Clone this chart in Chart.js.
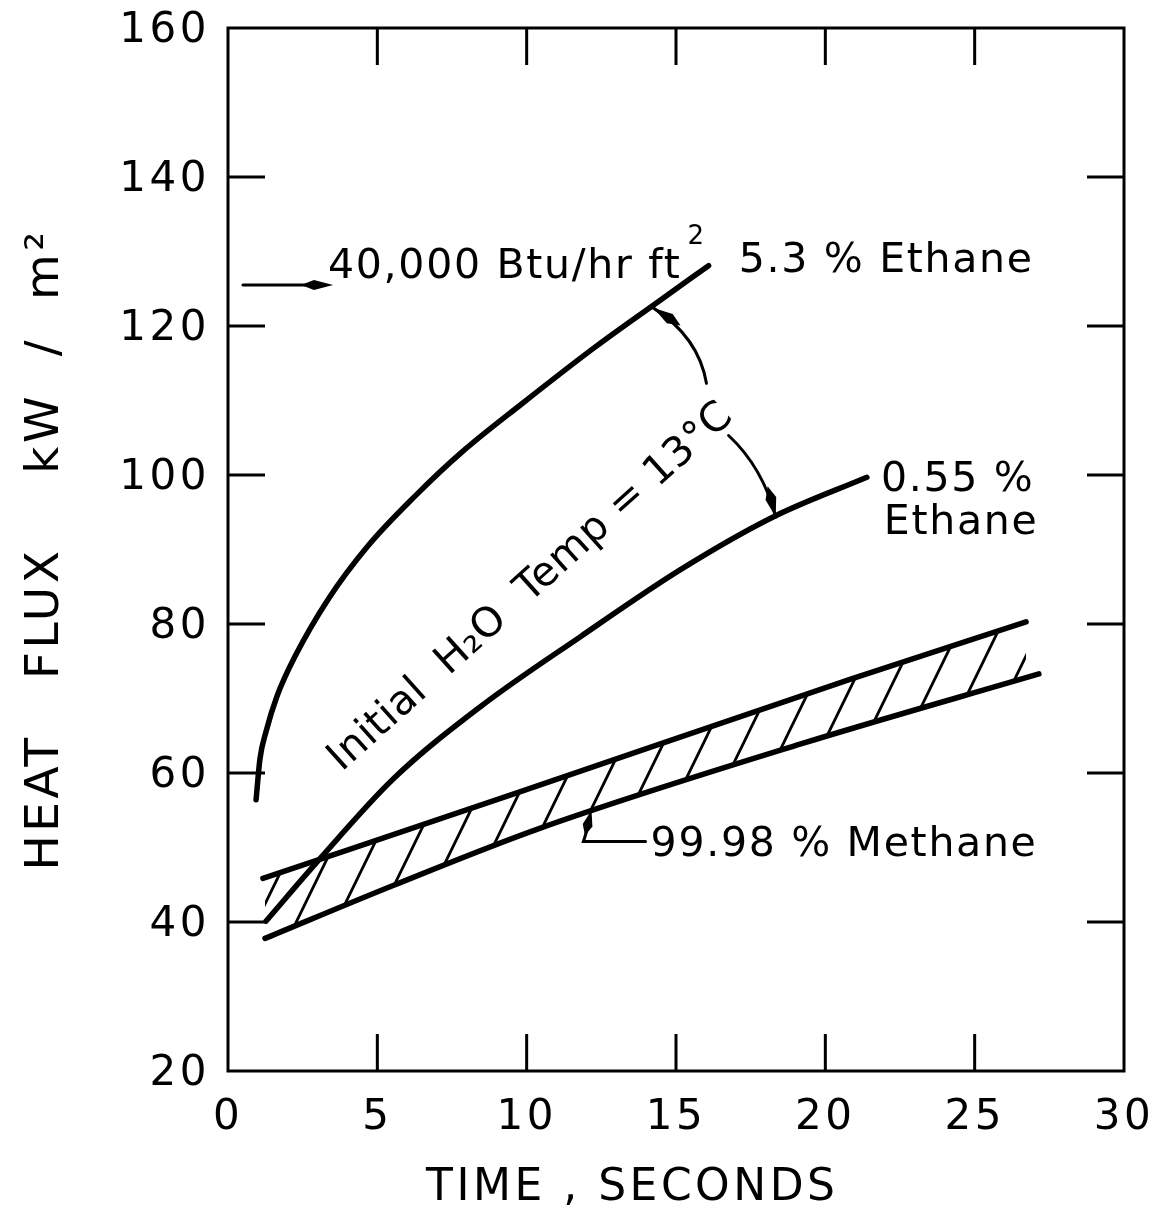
<!DOCTYPE html>
<html>
<head>
<meta charset="utf-8">
<script src="https://cdn.jsdelivr.net/npm/chart.js@4.4.0/dist/chart.umd.min.js"></script>
<style>
  html, body { margin: 0; padding: 0; background: #fff; }
  canvas { display: block; }
</style>
</head>
<body>
<canvas id="myChart" width="1150" height="1211"></canvas>
<script>
// values (time in s, heat flux in kW/m2)
const xTicks = [0, 5, 10, 15, 20, 25, 30];
const yTicks = [20, 40, 60, 80, 100, 120, 140, 160];

const ethaneHighTime = [0.94, 1.07, 1.27, 1.64, 2.25, 3.35, 4.69, 6.27, 7.81, 9.82, 12.30, 14.31, 16.09];
const ethaneHighFlux = [56.4, 61.9, 65.5, 70.3, 75.7, 83.3, 90.5, 97.2, 103.0, 109.5, 117.2, 123.0, 128.1];

const ethaneLowTime = [1.27, 3.08, 5.53, 8.45, 11.80, 15.15, 18.27, 21.39];
const ethaneLowFlux = [40.1, 48.5, 59.2, 68.9, 78.3, 87.3, 94.4, 99.7];

const methaneUpperTime = [1.17, 9.72, 20.85, 26.72];
const methaneUpperFlux = [45.85, 57.4, 72.6, 80.3];

const methaneLowerTime = [1.24, 5.53, 10.39, 19.18, 27.15];
const methaneLowerFlux = [37.8, 44.9, 52.5, 63.9, 73.3];

const btuLine = 125.5; // 40,000 Btu/hr ft2 in kW/m2

const toPoints = (xs, ys) => xs.map((v, i) => ({ x: v, y: ys[i] }));

// diagonal hatching for the methane band
function makeHatch() {
    const w = 40, h = 82;
    const c = document.createElement('canvas');
    c.width = w; c.height = h;
    const g = c.getContext('2d');
    g.strokeStyle = '#000';
    g.lineWidth = 2.8;
    g.beginPath();
    [-w, 0, w].forEach(dx => {
        g.moveTo(dx - 4, h + 8.2);
        g.lineTo(dx + w + 4, -8.2);
    });
    g.stroke();
    const p = g.createPattern(c, 'repeat');
    p.setTransform(new DOMMatrix().translate(26, 0));
    return p;
}

function arrowHead(ctx, tx, ty, fx, fy, len, wid) {
    const d = Math.hypot(tx - fx, ty - fy);
    const ux = (tx - fx) / d, uy = (ty - fy) / d;
    const nx = -uy, ny = ux;
    ctx.beginPath();
    ctx.moveTo(tx, ty);
    ctx.lineTo(tx - ux * len * 0.6 + nx * wid / 2, ty - uy * len * 0.6 + ny * wid / 2);
    ctx.lineTo(tx - ux * len, ty - uy * len);
    ctx.lineTo(tx - ux * len * 0.6 - nx * wid / 2, ty - uy * len * 0.6 - ny * wid / 2);
    ctx.closePath();
    ctx.fill();
}

// wider lettering, like the hand-lettered original
const spacing = {
    id: 'spacing',
    beforeDraw(chart) { chart.ctx.letterSpacing = '3.5px'; }
};

const frameAndTicks = {
    id: 'frameAndTicks',
    afterDatasetsDraw(chart) {
        const { ctx, chartArea: a, scales: { x, y } } = chart;
        ctx.save();
        ctx.strokeStyle = '#000';
        ctx.lineWidth = 3;
        ctx.strokeRect(a.left, a.top, a.right - a.left, a.bottom - a.top);
        const len = 37;
        ctx.beginPath();
        xTicks.slice(1, -1).forEach(v => {
            const px = x.getPixelForValue(v);
            ctx.moveTo(px, a.bottom); ctx.lineTo(px, a.bottom - len);
            ctx.moveTo(px, a.top); ctx.lineTo(px, a.top + len);
        });
        yTicks.slice(1, -1).forEach(v => {
            const py = y.getPixelForValue(v);
            ctx.moveTo(a.left, py); ctx.lineTo(a.left + len, py);
            ctx.moveTo(a.right, py); ctx.lineTo(a.right - len, py);
        });
        ctx.stroke();
        ctx.restore();
    }
};

const notes = {
    id: 'notes',
    afterDatasetsDraw(chart) {
        const { ctx, scales: { x, y } } = chart;
        const P = (t, f) => [x.getPixelForValue(t), y.getPixelForValue(f)];
        ctx.save();
        ctx.fillStyle = '#000';
        ctx.strokeStyle = '#000';
        ctx.lineCap = 'round';
        ctx.textBaseline = 'alphabetic';
        ctx.letterSpacing = '1.7px';
        ctx.font = '41px "DejaVu Sans"';

        // 40,000 Btu/hr ft2 marker
        let [ax0, ay] = P(0.5, btuLine);
        let [ax1] = P(3.52, btuLine);
        ctx.lineWidth = 3;
        ctx.beginPath(); ctx.moveTo(ax0, ay); ctx.lineTo(ax1 - 20, ay); ctx.stroke();
        arrowHead(ctx, ax1, ay, ax0, ay, 32, 10);
        let [tx, ty] = P(3.35, 126.5);
        ctx.fillText('40,000 Btu/hr ft', tx, ty);
        const w = ctx.measureText('40,000 Btu/hr ft').width;
        ctx.font = '26px "DejaVu Sans"';
        ctx.fillText('2', tx + w + 6, ty - 34);

        ctx.font = '41px "DejaVu Sans"';
        [tx, ty] = P(17.1, 127.3);
        ctx.fillText('5.3 % Ethane', tx, ty);
        [tx, ty] = P(21.86, 97.8);
        ctx.fillText('0.55 %', tx, ty);
        [tx, ty] = P(21.96, 92.1);
        ctx.fillText('Ethane', tx, ty);
        [tx, ty] = P(14.15, 48.9);
        ctx.fillText('99.98 % Methane', tx, ty);

        // leader to the methane band
        const [lx, ly] = P(11.9, 50.8);
        const [lx2] = P(13.98, 50.8);
        const [mx, my] = P(12.17, 55.0);
        ctx.lineWidth = 3;
        ctx.beginPath(); ctx.moveTo(lx2, ly); ctx.lineTo(lx, ly); ctx.lineTo(mx - 2, my + 12); ctx.stroke();
        arrowHead(ctx, mx, my, lx, ly, 26, 10);

        // rotated water temperature label
        const [rx, ry] = P(10.15, 84.9);
        ctx.save();
        ctx.translate(rx, ry);
        ctx.rotate(-42 * Math.PI / 180);
        ctx.textAlign = 'center';
        ctx.textBaseline = 'middle';
        ctx.letterSpacing = '0.5px';
        ctx.font = '41px "DejaVu Sans"';
        ctx.fillText('Initial  H\u2082O  Temp = 13\u00b0C', 0, 0);
        ctx.restore();

        // curved arrows from the label to the two ethane curves
        const arcs = [
            [[16.02, 112.3], [15.76, 118.5], [14.25, 122.4]],
            [[16.76, 105.3], [17.90, 101.05], [18.34, 94.35]]
        ];
        ctx.lineWidth = 3;
        arcs.forEach(([s, c, e]) => {
            const [sx, sy] = P(s[0], s[1]);
            const [cx, cy] = P(c[0], c[1]);
            const [ex, ey] = P(e[0], e[1]);
            ctx.beginPath();
            ctx.moveTo(sx, sy);
            ctx.quadraticCurveTo(cx, cy, ex, ey);
            ctx.stroke();
            arrowHead(ctx, ex, ey, cx, cy, 32, 11);
        });
        ctx.restore();
    }
};

const lineStyle = {
    borderColor: '#000',
    borderWidth: 5.5,
    borderCapStyle: 'round',
    pointRadius: 0,
    cubicInterpolationMode: 'monotone',
    fill: false
};

Chart.defaults.font.family = '"DejaVu Sans"';
Chart.defaults.color = '#000';

const ctx = document.getElementById('myChart');
new Chart(ctx, {
    type: 'line',
    data: {
        datasets: [
            { label: '5.3 % Ethane', data: toPoints(ethaneHighTime, ethaneHighFlux), ...lineStyle },
            { label: '0.55 % Ethane', data: toPoints(ethaneLowTime, ethaneLowFlux), ...lineStyle },
            { label: '99.98 % Methane upper', data: toPoints(methaneUpperTime, methaneUpperFlux), ...lineStyle,
              fill: '+1', backgroundColor: makeHatch() },
            { label: '99.98 % Methane lower', data: toPoints(methaneLowerTime, methaneLowerFlux), ...lineStyle }
        ]
    },
    options: {
        responsive: false,
        animation: false,
        layout: { padding: { top: 28, right: 26, left: 0, bottom: 0 } },
        plugins: { legend: { display: false }, tooltip: { enabled: false } },
        scales: {
            x: {
                type: 'linear',
                min: 0,
                max: 30,
                afterBuildTicks: s => { s.ticks = xTicks.map(v => ({ value: v })); },
                afterFit: s => { s.height = 140; s.paddingLeft = 0; s.paddingRight = 0; },
                grid: { display: false, drawTicks: false },
                border: { display: false },
                ticks: { font: { size: 42 }, padding: 22, maxRotation: 0, autoSkip: false },
                title: {
                    display: true,
                    // trailing blanks push the centred title left, as in the original
                    text: 'TIME , SECONDS\u00a0\u00a0\u00a0\u00a0\u00a0',
                    font: { size: 44, lineHeight: 1 },
                    padding: { top: 0, bottom: 0 }
                }
            },
            y: {
                min: 20,
                max: 160,
                afterBuildTicks: s => { s.ticks = yTicks.map(v => ({ value: v })); },
                afterFit: s => { s.width = 228; s.paddingTop = 0; s.paddingBottom = 0; },
                grid: { display: false, drawTicks: false },
                border: { display: false },
                ticks: { font: { size: 42 }, padding: 18, autoSkip: false, labelOffset: 3 },
                title: { display: true, text: 'HEAT   FLUX    kW  /  m\u00b2', font: { size: 47, lineHeight: 1 }, padding: { top: 22, bottom: 0 } }
            }
        }
    },
    plugins: [spacing, frameAndTicks, notes]
});
</script>
</body>
</html>
